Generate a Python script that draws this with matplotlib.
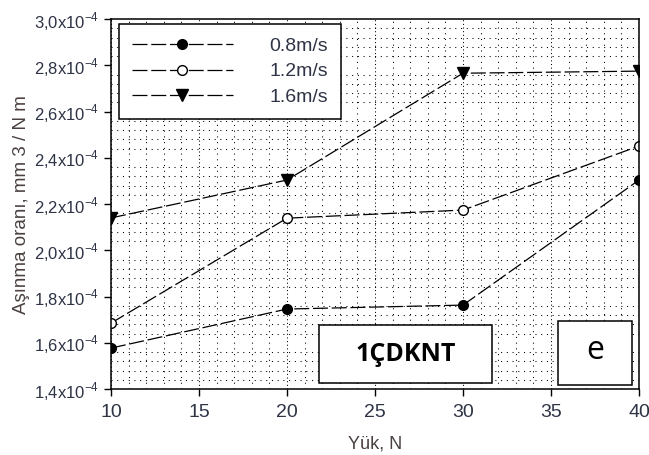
import matplotlib
matplotlib.use("Agg")
import matplotlib.pyplot as plt
from matplotlib.ticker import MultipleLocator, FuncFormatter
from matplotlib.patches import Rectangle

# data
load = [10, 20, 30, 40]
v08 = [1.577e-4, 1.746e-4, 1.763e-4, 2.304e-4]
v12 = [1.685e-4, 2.139e-4, 2.174e-4, 2.451e-4]
v16 = [2.140e-4, 2.304e-4, 2.766e-4, 2.775e-4]
labels = ["0.8m/s", "1.2m/s", "1.6m/s"]

plt.rcParams['font.family'] = ['Liberation Sans', 'DejaVu Sans']
plt.rcParams['mathtext.fontset'] = 'custom'
plt.rcParams['mathtext.rm'] = 'Liberation Sans'
txtcol = '#2e3445'

fig = plt.figure(figsize=(6.49, 4.55), dpi=100)
ax = fig.add_axes([0.171, 0.145, 0.8136, 0.813])

ax.plot(load, v08, color='black', lw=0.9, dashes=(12, 3), marker='o',
        ms=7, mfc='black', mec='black', label=labels[0])
ax.plot(load, v12, color='black', lw=0.9, dashes=(12, 3), marker='o',
        ms=7, mfc='white', mec='black', label=labels[1])
ax.plot(load, v16, color='black', lw=0.9, dashes=(12, 3), marker='v',
        ms=8, mfc='black', mec='black', label=labels[2])

ax.set_xlim(10, 40)
ax.set_ylim(1.4e-4, 3.0e-4)
ax.xaxis.set_major_locator(MultipleLocator(5))
ax.xaxis.set_minor_locator(MultipleLocator(1))
ax.yaxis.set_major_locator(MultipleLocator(0.2e-4))
ax.yaxis.set_minor_locator(MultipleLocator(0.04e-4))


def yfmt(v, pos):
    s = "%.1f" % (v * 1e4)
    return s.replace('.', ',') + r"x10$^{\mathregular{-4}}$"


ax.yaxis.set_major_formatter(FuncFormatter(yfmt))

ax.grid(which='minor', color='black', lw=0.75, linestyle=(0, (1, 4.5)))
ax.grid(which='major', axis='x', color='black', lw=0.75,
        linestyle=(0, (1, 2.5)))
ax.set_axisbelow(True)
ax.tick_params(which='major', direction='out', length=5, width=1,
               labelcolor=txtcol)
ax.tick_params(axis='x', labelsize=14, pad=6)
ax.tick_params(axis='y', labelsize=12)
ax.tick_params(which='minor', length=0)
for sp in ax.spines.values():
    sp.set_linewidth(1.1)

ax.set_xlabel("Yük, N", fontsize=13, color='#4a4040', labelpad=10)
ax.set_ylabel("Aşınma oranı, mm 3 / N m", fontsize=13.5, color='#4a4040',
              labelpad=3)

leg = ax.legend(loc='upper left', bbox_to_anchor=(0.015, 0.986),
                borderaxespad=0, fontsize=14, handlelength=5.2,
                handletextpad=1.9, labelspacing=0.42, borderpad=0.65,
                fancybox=False, framealpha=1, edgecolor='black',
                numpoints=1)
leg.get_frame().set_linewidth(1.1)
for t in leg.get_texts():
    t.set_color(txtcol)

# annotation boxes
ax.add_patch(Rectangle((0.394, 0.016), 0.328, 0.157, transform=ax.transAxes,
                       facecolor='white', edgecolor='black', lw=1.1, zorder=5))
ax.text(0.558, 0.0945, "1ÇDKNT", transform=ax.transAxes, ha='center',
        va='center', fontsize=18, fontweight='bold', family='Open Sans',
        zorder=6)
ax.add_patch(Rectangle((0.847, 0.011), 0.140, 0.173, transform=ax.transAxes,
                       facecolor='white', edgecolor='black', lw=1.1, zorder=5))
ax.text(0.917, 0.105, "e", transform=ax.transAxes, ha='center',
        va='center', fontsize=23, family='Open Sans', zorder=6)

fig.savefig("out.png", dpi=100)
